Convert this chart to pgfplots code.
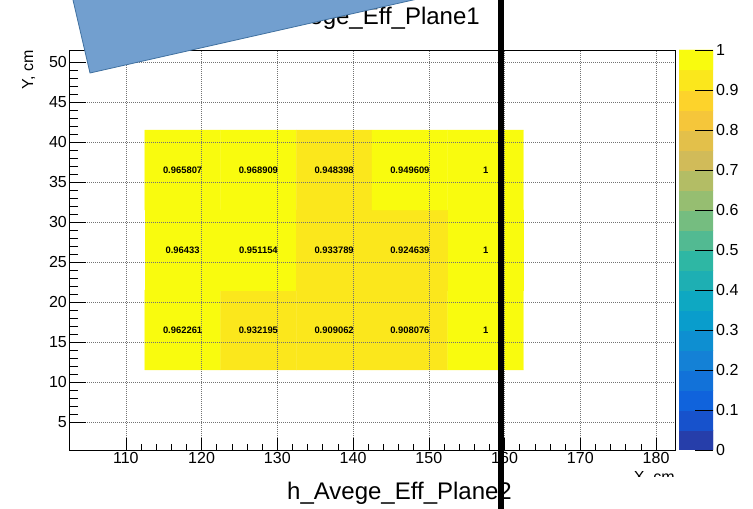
\documentclass[border=0pt]{standalone}
\usepackage{fontspec}
\setmainfont{Liberation Sans}
\usepackage{pgfplots}
\usepackage{pgfplotstable}
\pgfplotsset{compat=1.18}

% average efficiency per (X,Y) cell, plane 1
\pgfplotstableread{
x     y    z
117.5 16.5 0.962261
127.5 16.5 0.932195
137.5 16.5 0.909062
147.5 16.5 0.908076
157.5 16.5 1
117.5 26.5 0.96433
127.5 26.5 0.951154
137.5 26.5 0.933789
147.5 26.5 0.924639
157.5 26.5 1
117.5 36.5 0.965807
127.5 36.5 0.968909
137.5 36.5 0.948398
147.5 36.5 0.949609
157.5 36.5 1
}\effplane

% palette strip: one cell per contour band (centre of each 0.05 band)
\pgfplotstableread{
x    y     z
0.25 0.025 0.025
0.75 0.025 0.025
0.25 0.075 0.075
0.75 0.075 0.075
0.25 0.125 0.125
0.75 0.125 0.125
0.25 0.175 0.175
0.75 0.175 0.175
0.25 0.225 0.225
0.75 0.225 0.225
0.25 0.275 0.275
0.75 0.275 0.275
0.25 0.325 0.325
0.75 0.325 0.325
0.25 0.375 0.375
0.75 0.375 0.375
0.25 0.425 0.425
0.75 0.425 0.425
0.25 0.475 0.475
0.75 0.475 0.475
0.25 0.525 0.525
0.75 0.525 0.525
0.25 0.575 0.575
0.75 0.575 0.575
0.25 0.625 0.625
0.75 0.625 0.625
0.25 0.675 0.675
0.75 0.675 0.675
0.25 0.725 0.725
0.75 0.725 0.725
0.25 0.775 0.775
0.75 0.775 0.775
0.25 0.825 0.825
0.75 0.825 0.825
0.25 0.875 0.875
0.75 0.875 0.875
0.25 0.925 0.925
0.75 0.925 0.925
0.25 0.975 0.975
0.75 0.975 0.975
}\palettebands

% 20-level "bird" palette, one colour per contour band
\pgfplotsset{
  colormap={birdbands}{
    rgb(0pt)=(0.1486,0.2438,0.6649);
    rgb(100pt)=(0.0890,0.3212,0.8006);
    rgb(200pt)=(0.0630,0.3887,0.8624);
    rgb(300pt)=(0.0705,0.4464,0.8505);
    rgb(400pt)=(0.0780,0.5041,0.8385);
    rgb(500pt)=(0.0561,0.5592,0.8197);
    rgb(600pt)=(0.0342,0.6143,0.8008);
    rgb(700pt)=(0.0546,0.6571,0.7616);
    rgb(800pt)=(0.1174,0.6874,0.7021);
    rgb(900pt)=(0.1802,0.7178,0.6425);
    rgb(1000pt)=(0.3202,0.7304,0.5720);
    rgb(1100pt)=(0.4601,0.7429,0.5015);
    rgb(1200pt)=(0.5878,0.7459,0.4429);
    rgb(1300pt)=(0.7032,0.7394,0.3964);
    rgb(1400pt)=(0.8186,0.7328,0.3499);
    rgb(1500pt)=(0.8894,0.7542,0.2887);
    rgb(1600pt)=(0.9602,0.7755,0.2274);
    rgb(1700pt)=(0.9918,0.8256,0.1682);
    rgb(1800pt)=(0.9841,0.9044,0.1111);
    rgb(1899pt)=(0.9764,0.9832,0.0539);
    rgb(2000pt)=(0.9764,0.9832,0.0539)
  },
  zpalette/.style={
    colormap name=birdbands,
    colormap access=piecewise constant,
    point meta min=0, point meta max=1,
  },
}

\definecolor{shapefill}{RGB}{114,159,207}
\definecolor{shapeedge}{RGB}{65,113,160}

\newcommand{\ticksize}{\fontsize{16}{16}\selectfont}

\begin{document}
\begin{tikzpicture}
\useasboundingbox (0,0) rectangle (753pt,509pt);
\clip (0,0) rectangle (753pt,509pt);

% efficiency map
\begin{axis}[
  at={(69pt,59pt)}, anchor=south west,
  scale only axis, width=606pt, height=400pt,
  xmin=102.5, xmax=182.5, ymin=1.5, ymax=51.5,
  xtick={110,120,...,180}, ytick={5,10,...,50},
  minor x tick num=4, minor y tick num=4,
  tick pos=left, tick align=inside,
  x tick style={/pgfplots/major tick length=12pt, /pgfplots/minor tick length=6pt},
  y tick style={/pgfplots/major tick length=17pt, /pgfplots/minor tick length=9pt},
  tick style={black, line width=0.6pt},
  grid=major,
  major grid style={black!55, dash pattern=on 1pt off 1pt, line width=0.5pt},
  axis on top,
  axis line style={line width=0.6pt},
  ticklabel style={font=\ticksize, inner sep=2pt},
  /pgf/number format/assume math mode=true,
  zpalette,
]
\addplot[matrix plot*, mesh/cols=5, mesh/rows=3, point meta=explicit]
  table[x=x, y=y, meta=z] {\effplane};
\addplot[only marks, mark=none, point meta=explicit symbolic,
  nodes near coords,
  every node near coord/.append style={anchor=center, font=\fontsize{9.4}{9.4}\selectfont\bfseries, text=black}]
  table[x=x, y=y, meta=z] {\effplane};
\end{axis}

% z scale
\begin{axis}[
  at={(679pt,59pt)}, anchor=south west,
  scale only axis, width=34pt, height=400pt,
  xmin=0, xmax=1, ymin=0, ymax=1,
  xtick=\empty,
  ytick={0,0.1,0.2,0.3,0.4,0.5,0.6,0.7,0.8,0.9,1},
  ytick pos=right, yticklabel pos=right,
  tick align=inside,
  major tick length=18pt,
  tick style={black, line width=0.6pt},
  axis line style={draw=none},
  axis on top,
  yticklabel style={font=\ticksize, inner sep=3pt},
  /pgf/number format/assume math mode=true,
  /pgf/number format/fixed, /pgf/number format/precision=1,
  zpalette,
]
\addplot[matrix plot*, mesh/cols=2, mesh/rows=20, point meta=explicit]
  table[x=x, y=y, meta=z] {\palettebands};
\end{axis}

% axis titles
\node[rotate=90, anchor=base east, font=\ticksize, inner sep=0pt] at (33pt,459pt) {Y, cm};
\node[anchor=base east, font=\ticksize, inner sep=0pt] at (675pt,26pt) {X, cm};

% lower caption on its own white pad
\fill[white] (0,0) rectangle (753pt,32pt);
\node[anchor=base west, font=\fontsize{24}{24}\selectfont, inner sep=0pt] at (287pt,9pt) {h\_Avege\_Eff\_Plane2};

% histogram title
\node[anchor=base east, font=\fontsize{24}{24}\selectfont, inner sep=0pt] at (480pt,484pt) {h\_Avege\_Eff\_Plane1};

% tilted blue panel over the upper left corner
\filldraw[fill=shapefill, draw=shapeedge, line width=0.8pt]
  (90pt,436pt) -- (574.5pt,545.5pt) -- (549pt,655pt) -- (64.5pt,545.5pt) -- cycle;

% vertical marker line
\fill[black] (498pt,0pt) rectangle (504pt,509pt);
\end{tikzpicture}
\end{document}
